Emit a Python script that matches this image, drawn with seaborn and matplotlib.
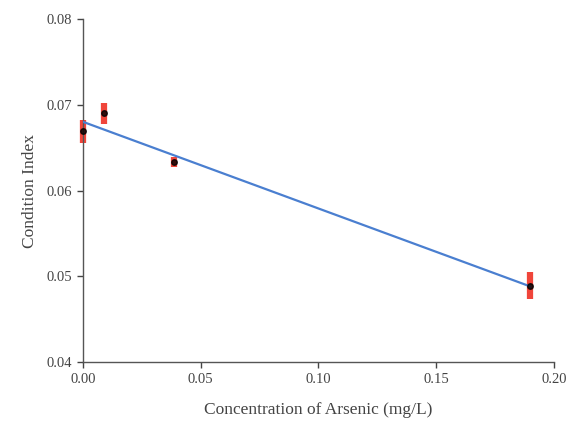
import matplotlib
matplotlib.use('Agg')
import matplotlib.pyplot as plt
import seaborn as sns
import pandas as pd

# Data
arsenic = [0.0, 0.0089, 0.0386, 0.190]
condition = [0.0669, 0.0690, 0.0633, 0.0489]
cond_err = [0.0013, 0.0012, 0.0006, 0.0016]

x_ticks = [0.00, 0.05, 0.10, 0.15, 0.20]
y_ticks = [0.04, 0.05, 0.06, 0.07, 0.08]

df = pd.DataFrame({'arsenic': arsenic, 'condition': condition, 'err': cond_err})

sns.set_style('ticks')
plt.rcParams['font.family'] = ['Liberation Serif', 'DejaVu Serif']

fig = plt.figure(figsize=(5.71, 4.24), dpi=100)
ax = fig.add_axes([0.145, 0.146, 0.825, 0.809])

# error bars
eb = ax.errorbar(df['arsenic'], df['condition'], yerr=df['err'], fmt='none',
                 ecolor='#f0453a', elinewidth=4.5, capsize=0, zorder=2)
for c in eb.get_children():
    c.set_clip_on(False)

# regression line + points
sns.regplot(data=df, x='arsenic', y='condition', ci=None, ax=ax,
            scatter_kws={'color': 'black', 's': 16, 'zorder': 4, 'clip_on': False},
            line_kws={'color': '#4a7fd0', 'linewidth': 1.6, 'zorder': 3})

ax.set_xlim(0, 0.20)
ax.set_ylim(0.04, 0.08)
ax.set_xticks(x_ticks)
ax.set_yticks(y_ticks)
ax.set_xticklabels([f'{t:.2f}' for t in x_ticks])
ax.set_yticklabels([f'{t:.2f}' for t in y_ticks])
ax.set_xlabel('Concentration of Arsenic (mg/L)', fontsize=12.5, color='#444444', labelpad=12)
ax.set_ylabel('Condition Index', fontsize=12.5, color='#444444', labelpad=6)
ax.tick_params(labelsize=10.5, colors='#444444', length=4, width=1)
sns.despine(ax=ax)
for s in ['left', 'bottom']:
    ax.spines[s].set_color('#555555')
    ax.spines[s].set_linewidth(1)

fig.savefig('out.png', dpi=100)
